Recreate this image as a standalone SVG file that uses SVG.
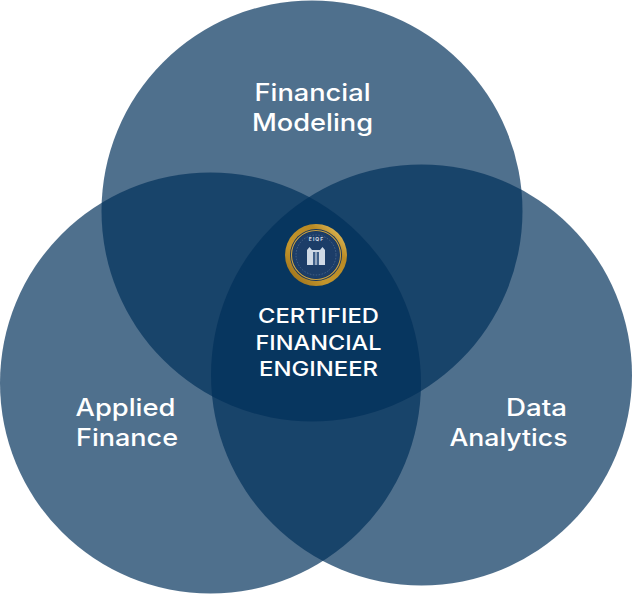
<svg xmlns="http://www.w3.org/2000/svg" width="632" height="594" viewBox="0 0 632 594">
<defs>
<linearGradient id="gold" x1="0" y1="1" x2="1" y2="0"><stop offset="0" stop-color="#8f6414"/><stop offset=".35" stop-color="#c4962c"/><stop offset=".7" stop-color="#b98a24"/><stop offset="1" stop-color="#f2d272"/></linearGradient>
</defs>
<style>
.c{fill:#00305a;fill-opacity:.69}
text{font-family:Inter,"Open Sans","Liberation Sans",sans-serif;fill:#fff;text-anchor:middle;font-weight:500;font-size:24px}
.m{font-size:20.5px}
.b{font-size:5px;font-weight:700;fill:#d5dde8;letter-spacing:1px}
</style>
<g id="circle-financial-modeling"><circle class="c" cx="312" cy="211" r="210.5"/><text x="312.500" y="101" textLength="116" lengthAdjust="spacingAndGlyphs">Financial</text><text x="312.500" y="131" textLength="121" lengthAdjust="spacingAndGlyphs">Modeling</text></g>
<g id="circle-applied-finance"><circle class="c" cx="210.500" cy="383" r="210.500"/><text x="125.500" y="416" textLength="100" lengthAdjust="spacingAndGlyphs">Applied</text><text x="127" y="446" textLength="102" lengthAdjust="spacingAndGlyphs">Finance</text></g>
<g id="circle-data-analytics"><circle class="c" cx="421.500" cy="375" r="210.500"/><text x="536.500" y="416" textLength="61" lengthAdjust="spacingAndGlyphs">Data</text><text x="508.500" y="446" textLength="118" lengthAdjust="spacingAndGlyphs">Analytics</text></g>
<g id="center">
<g id="badge">
<circle cx="316" cy="255" r="31" fill="url(#gold)"/>
<circle cx="316" cy="255" r="26" fill="#16355c"/>
<circle cx="316" cy="255" r="24.500" fill="none" stroke="#c9a042" stroke-width="1.200"/>
<circle cx="316" cy="255" r="23.500" fill="#1c3d68"/>
<circle cx="316" cy="255" r="20" fill="none" stroke="#5f7898" stroke-width="1" stroke-dasharray="1.500 1.500" opacity=".6"/>
<text class="b" x="316.500" y="241">EIQF</text>
<path d="M307 265V250L309.500 247L312 250H320L322.500 247L325 250V265Z" fill="#cfd9e6"/>
<path d="M313 265V252H319V265Z" fill="#40608a"/>
<path d="M316 252V265" stroke="#e8edf4" stroke-width="1"/>
</g>
<text class="m" x="318.500" y="323" textLength="121" lengthAdjust="spacingAndGlyphs">CERTIFIED</text>
<text class="m" x="318.500" y="350" textLength="126" lengthAdjust="spacingAndGlyphs">FINANCIAL</text>
<text class="m" x="318.500" y="376" textLength="119" lengthAdjust="spacingAndGlyphs">ENGINEER</text>
</g>
</svg>
